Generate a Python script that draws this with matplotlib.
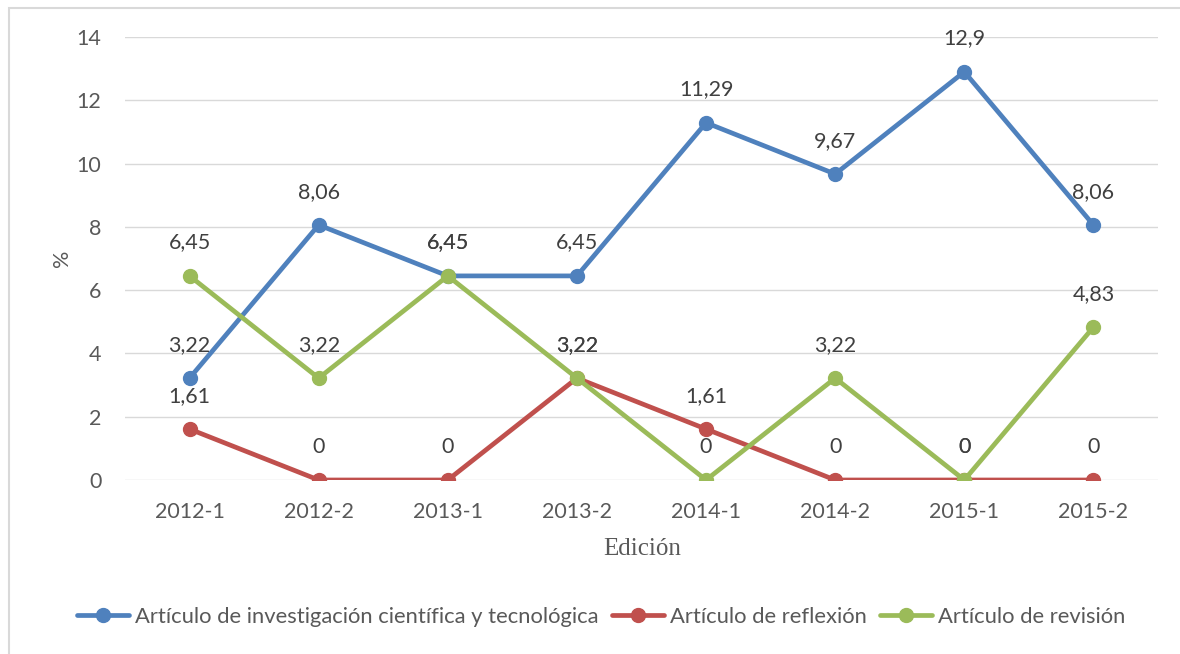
import matplotlib.pyplot as plt
from matplotlib.patches import Rectangle

ediciones = ["2012-1", "2012-2", "2013-1", "2013-2", "2014-1", "2014-2", "2015-1", "2015-2"]
investigacion = [3.22, 8.06, 6.45, 6.45, 11.29, 9.67, 12.9, 8.06]
reflexion = [1.61, 0, 0, 3.22, 1.61, 0, 0, 0]
revision = [6.45, 3.22, 6.45, 3.22, 0, 3.22, 0, 4.83]

series = [
    ("Artículo de investigación científica y tecnológica", investigacion, "#4F81BD"),
    ("Artículo de reflexión", reflexion, "#C0504D"),
    ("Artículo de revisión", revision, "#9BBB59"),
]

plt.rcParams["font.family"] = ["Lato", "DejaVu Sans"]
fs = 15.5

fig = plt.figure(figsize=(11.8, 6.54), dpi=100)
ax = fig.add_axes([125 / 1180, 1 - 480 / 654, (1158 - 125) / 1180, (480 - 37) / 654])

x = list(range(len(ediciones)))
for name, vals, color in series:
    ax.plot(x, vals, color=color, lw=3.4, marker="o", ms=10, label=name,
            solid_capstyle="round", zorder=3)
    for xi, v in zip(x, vals):
        txt = f"{v:g}".replace(".", ",")
        ax.annotate(txt, (xi, v), xytext=(0, 24), textcoords="offset points",
                    ha="center", va="center", fontsize=fs, color="#404040")

ax.set_xlim(-0.5, len(ediciones) - 0.5)
ax.set_ylim(0, 14)
ax.set_yticks(range(0, 15, 2))
ax.set_xticks(x)
ax.set_xticklabels(ediciones)
ax.grid(axis="y", color="#D9D9D9", lw=1)
ax.set_axisbelow(True)
for s in ax.spines.values():
    s.set_visible(False)
ax.tick_params(length=0, labelsize=fs, colors="#595959", pad=16)
ax.tick_params(axis="y", pad=17)

fig.text(642 / 1180, 1 - 549 / 654, "Edición", ha="center", va="center",
         fontsize=18, color="#595959", family="Liberation Serif")
fig.text(62 / 1180, 1 - 258 / 654, "%", ha="center", va="center", rotation=90,
         fontsize=fs, color="#595959")

fig.legend(loc="center", bbox_to_anchor=(601 / 1180, 1 - 617 / 654), ncol=3,
           frameon=False, fontsize=15.8, handlelength=2.4, handletextpad=0.25,
           columnspacing=0.6, labelcolor="#595959")

fig.patches.append(Rectangle((9 / 1180, -0.1), 1.2, 1 - 8 / 654 + 0.1,
                             transform=fig.transFigure, fill=False,
                             edgecolor="#D9D9D9", lw=1.5))

fig.savefig("out.png", dpi=100)
